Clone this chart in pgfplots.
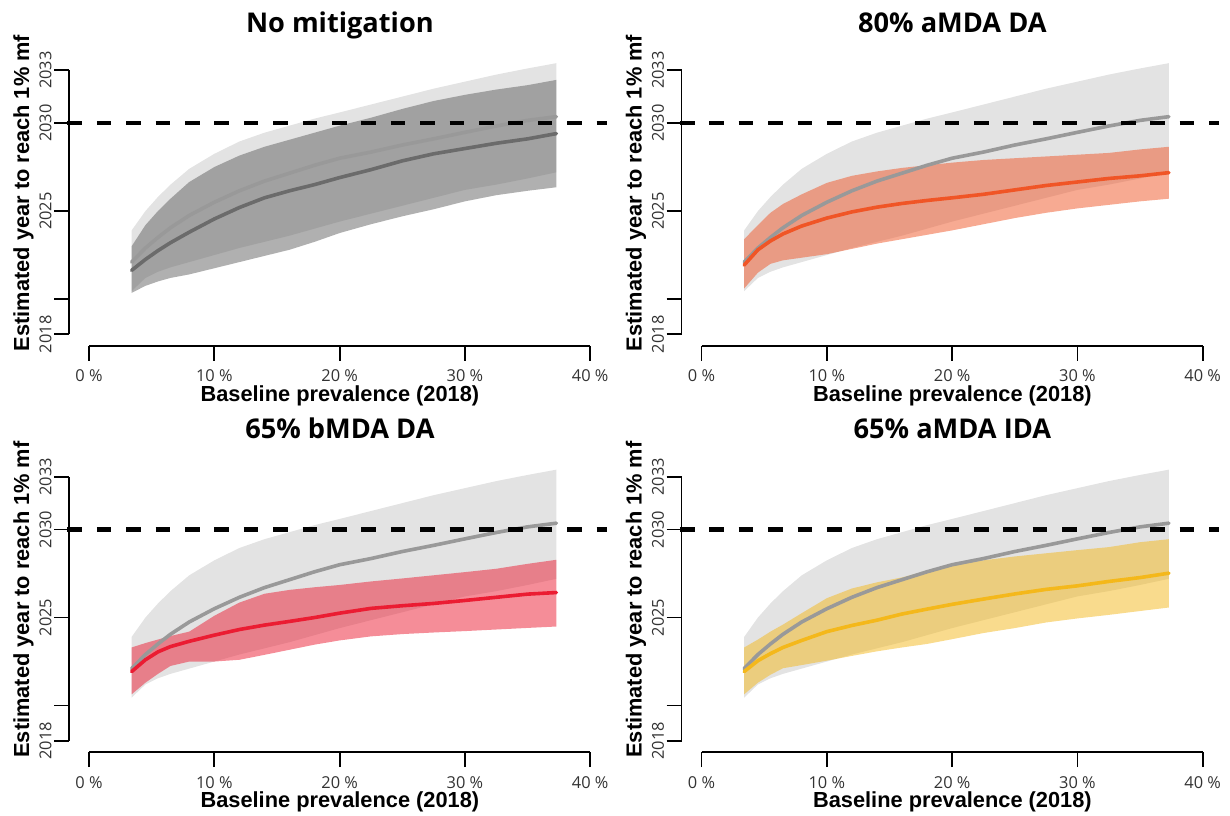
\documentclass[border=0pt]{standalone}
\usepackage{fontspec}
\usepackage{pgfplots}
\usepackage{pgfplotstable}
\pgfplotsset{compat=1.18}
\usepgfplotslibrary{fillbetween}
\newfontfamily\osans{Open Sans}
\newfontfamily\lsans{Liberation Sans}

\definecolor{refband}{RGB}{227,227,227}
\definecolor{refline}{RGB}{153,153,153}
\definecolor{nomit}{RGB}{97,97,97}
\definecolor{nomitline}{RGB}{107,107,107}
\definecolor{orng}{RGB}{240,85,38}
\definecolor{rd}{RGB}{235,28,50}
\definecolor{ylw}{RGB}{244,184,27}

% p = baseline prevalence (%), lo/mid/hi = year to reach 1% mf
\pgfplotstableread{
p    lo      mid     hi
3.4  2020.45 2022.1  2023.9
4.5  2021.2  2022.9  2025.0
5.5  2021.55 2023.5  2025.8
6.5  2021.8  2024.05 2026.5
8    2022.1  2024.75 2027.4
10   2022.5  2025.5  2028.25
12   2022.9  2026.15 2028.95
14   2023.25 2026.7  2029.45
16   2023.6  2027.15 2029.85
18   2024.0  2027.6  2030.25
20   2024.4  2028.0  2030.6
22.5 2024.85 2028.35 2031.05
25   2025.3  2028.75 2031.5
27.5 2025.75 2029.1  2031.95
30   2026.2  2029.47 2032.35
32.5 2026.5  2029.83 2032.75
35   2026.85 2030.15 2033.1
37.3 2027.2  2030.36 2033.4
}\reftab

\pgfplotstableread{
p    lo      mid     hi
3.4  2020.35 2021.63 2023.0
4.5  2020.75 2022.25 2024.2
5.5  2021.0  2022.75 2025.0
6.5  2021.2  2023.2  2025.7
8    2021.4  2023.8  2026.65
10   2021.75 2024.55 2027.5
12   2022.1  2025.2  2028.15
14   2022.45 2025.75 2028.65
16   2022.8  2026.15 2029.05
18   2023.25 2026.5  2029.45
20   2023.75 2026.9  2029.85
22.5 2024.25 2027.35 2030.3
25   2024.7  2027.85 2030.8
27.5 2025.1  2028.25 2031.25
30   2025.55 2028.55 2031.6
32.5 2025.9  2028.85 2031.9
35   2026.15 2029.1  2032.15
37.3 2026.35 2029.4  2032.45
}\nomittab

\pgfplotstableread{
p    lo      mid     hi
3.4  2020.6  2021.93 2023.4
4.5  2021.5  2022.8  2024.2
5.5  2022.0  2023.3  2024.9
6.5  2022.2  2023.7  2025.4
8    2022.35 2024.15 2025.95
10   2022.55 2024.6  2026.6
12   2022.85 2024.95 2027.0
14   2023.15 2025.22 2027.25
16   2023.4  2025.43 2027.45
18   2023.65 2025.6  2027.6
20   2023.9  2025.75 2027.75
22.5 2024.25 2025.95 2027.9
25   2024.6  2026.2  2028.0
27.5 2024.9  2026.45 2028.1
30   2025.15 2026.65 2028.2
32.5 2025.35 2026.85 2028.3
35   2025.55 2027.0  2028.5
37.3 2025.7  2027.18 2028.65
}\amdatab

\pgfplotstableread{
p    lo      mid     hi
3.4  2020.64 2021.93 2023.3
4.5  2021.3  2022.6  2023.55
5.5  2021.8  2023.05 2023.75
6.5  2022.25 2023.35 2023.95
8    2022.5  2023.65 2024.2
10   2022.5  2024.0  2025.1
12   2022.6  2024.32 2025.85
14   2022.88 2024.57 2026.35
16   2023.17 2024.78 2026.57
18   2023.46 2025.0  2026.72
20   2023.7  2025.25 2026.85
22.5 2023.93 2025.52 2027.05
25   2024.06 2025.67 2027.22
27.5 2024.15 2025.8  2027.4
30   2024.23 2025.97 2027.58
32.5 2024.32 2026.15 2027.77
35   2024.41 2026.33 2028.05
37.3 2024.49 2026.42 2028.28
}\bmdatab

\pgfplotstableread{
p    lo      mid     hi
3.4  2020.64 2021.93 2023.3
4.5  2021.3  2022.55 2023.75
5.5  2021.75 2022.95 2024.2
6.5  2022.12 2023.3  2024.6
8    2022.3  2023.7  2025.25
10   2022.55 2024.2  2026.1
12   2022.82 2024.55 2026.65
14   2023.08 2024.85 2027.0
16   2023.3  2025.2  2027.28
18   2023.5  2025.48 2027.65
20   2023.77 2025.75 2027.95
22.5 2024.12 2026.05 2028.25
25   2024.4  2026.34 2028.47
27.5 2024.72 2026.6  2028.65
30   2024.95 2026.8  2028.83
32.5 2025.15 2027.05 2029.0
35   2025.37 2027.27 2029.28
37.3 2025.57 2027.52 2029.45
}\idatab

\pgfplotsset{
  every axis title shift=0pt,
  panel/.style={
    scale only axis, width=268.75pt, height=143.03pt,
    anchor=south west,
    xmin=-1.6, xmax=41.3, ymin=2017.35, ymax=2033.6,
    clip=false,
    axis x line*=bottom, axis y line*=left,
    x axis line style={draw=none,-}, y axis line style={draw=none,-},
    tick align=outside, major tick length=7.5pt,
    tick style={black, line width=0.9pt},
    xtick={0,10,20,30,40}, xticklabels={0 \%,10 \%,20 \%,30 \%,40 \%},
    ytick={2018,2020,2025,2030,2033}, yticklabels={2018,,2025,2030,2033},
    tick label style={font=\osans\fontsize{8.2}{9}\selectfont, text=black!80},
    x tick label style={yshift=-1pt},
    y tick label style={rotate=90, anchor=south, inner sep=1pt},
    xlabel={Baseline prevalence (2018)},
    ylabel={Estimated year to reach 1\% mf},
    label style={font=\lsans\bfseries\fontsize{10.9}{12}\selectfont},
    x label style={at={(axis description cs:0.504,-0.195)}, anchor=base},
    y label style={at={(axis description cs:-0.0744,0.534)}, anchor=base},
    title style={at={(axis description cs:0.504,1.095)}, anchor=base,
      font=\osans\bfseries\fontsize{13.6}{15}\selectfont},
  },
  midline/.style={line width=1.8pt, line cap=round},
}

% reference (no mitigation) band and line, shown in every panel
\newcommand{\refpart}{%
  \addplot[draw=none, name path=rhi] table[x=p, y=hi]{\reftab};
  \addplot[draw=none, name path=rlo] table[x=p, y=lo]{\reftab};
  \addplot[refband, draw=none] fill between[of=rhi and rlo];
  \addplot[refline, midline] table[x=p, y=mid]{\reftab};
}
% scenario band and line: #1 table, #2 band colour, #3 line colour
\newcommand{\scenpart}[3]{%
  \addplot[draw=none, name path=shi] table[x=p, y=hi]{#1};
  \addplot[draw=none, name path=slo] table[x=p, y=lo]{#1};
  \addplot[fill=#2, fill opacity=0.5, draw=none] fill between[of=shi and slo];
  \addplot[#3, midline] table[x=p, y=mid]{#1};
}
\newcommand{\panelframe}{%
  \addplot[black, line width=2.1pt, dash pattern=on 7.3pt off 7.4pt, dash phase=9.55pt]
    coordinates {(-2.55,2030) (41.3,2030)};
  \draw[line width=0.9pt] (axis cs:0,2017.35) -- (axis cs:40,2017.35);
  \draw[line width=0.9pt] (axis cs:-1.6,2018) -- (axis cs:-1.6,2033);
}

\begin{document}
\begin{tikzpicture}

\begin{axis}[panel, at={(34.5pt,234.65pt)}, title={No mitigation}]
  \refpart
  \scenpart{\nomittab}{nomit}{nomitline}
  \panelframe
\end{axis}

\begin{axis}[panel, at={(340.75pt,234.65pt)}, title={80\% aMDA DA}]
  \refpart
  \scenpart{\amdatab}{orng}{orng}
  \panelframe
\end{axis}

\begin{axis}[panel, at={(34.5pt,31.4pt)}, title={65\% bMDA DA}]
  \refpart
  \scenpart{\bmdatab}{rd}{rd}
  \panelframe
\end{axis}

\begin{axis}[panel, at={(340.75pt,31.4pt)}, title={65\% aMDA IDA}]
  \refpart
  \scenpart{\idatab}{ylw}{ylw}
  \panelframe
\end{axis}

\pgfresetboundingbox
\path[use as bounding box] (0,0) rectangle (615pt,407.5pt);
\end{tikzpicture}
\end{document}
